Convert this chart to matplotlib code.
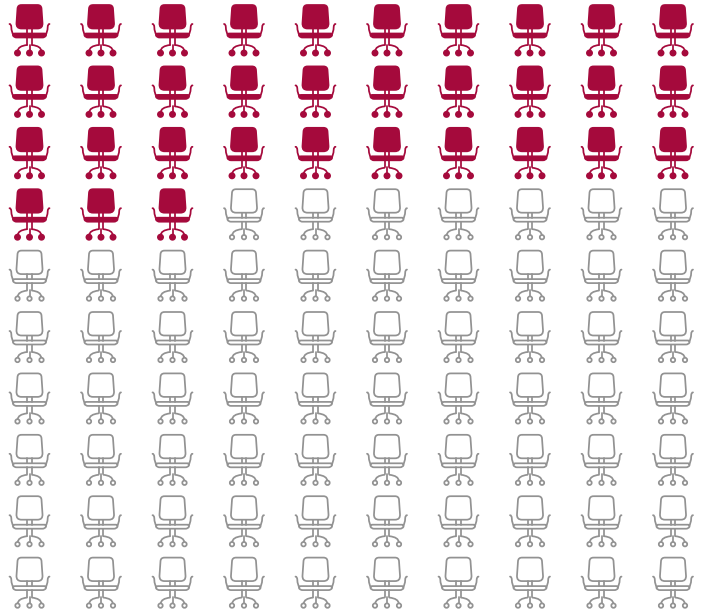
#Pictogram chart: 33 of 100 office chairs are highlighted
import matplotlib
matplotlib.use('Agg')
import matplotlib.pyplot as plt
from matplotlib.path import Path
from matplotlib.patches import PathPatch, Circle
from matplotlib.transforms import Affine2D

n_rows = 10
n_cols = 10
n_highlighted = 33
highlight_color = '#a50a3c'
rest_color = '#929292'

M, L, C = Path.MOVETO, Path.LINETO, Path.CURVE3

#Chair parts in pixels, origin at top centre of the chair
back = Path([(-8, 0), (8, 0), (11.7, 0), (12, 3.5), (13, 18), (13.4, 23.5), (8, 23.5), (-8, 23.5),
             (-13.4, 23.5), (-13, 18), (-12, 3.5), (-11.7, 0), (-8, 0)],
            [M, L, C, C, L, C, C, L, C, C, L, C, C])
seat = Path([(-15, 28.5), (15, 28.5), (17, 28.5), (16.5, 30.5), (15.5, 32.5), (13, 32.5), (-13, 32.5),
             (-15.5, 32.5), (-16.5, 30.5), (-17, 28.5), (-15, 28.5)],
            [M, L, C, C, C, C, L, C, C, C, C])
arm_l = Path([(-20, 19), (-18.3, 19), (-18.2, 22), (-18, 28), (-16, 29.5)], [M, C, C, C, C])
arm_r = Path([(20, 19), (18.3, 19), (18.2, 22), (18, 28), (16, 29.5)], [M, C, C, C, C])
neck = [Path([(-2.2, 23.5), (-2.2, 28.5)]), Path([(2.2, 23.5), (2.2, 28.5)])]
post = [Path([(-2.3, 32.5), (-2.3, 39.5)]), Path([(2.3, 32.5), (2.3, 39.5)])]
base = [Path([(0, 39.5), (0, 46)]),
        Path([(-11.8, 46), (-11.5, 41), (-2.5, 40)], [M, C, C]),
        Path([(11.8, 46), (11.5, 41), (2.5, 40)], [M, C, C])]
wheels = [(-12, 48), (0, 48), (12, 48)]


def draw_chair(ax, cx, top, color, filled):
    tr = Affine2D().translate(cx, top) + ax.transData
    lw = 1.25
    face = color if filled else 'white'
    ax.add_patch(PathPatch(back, facecolor=face, edgecolor=color, lw=lw, transform=tr))
    ax.add_patch(PathPatch(seat, facecolor=face, edgecolor=color, lw=lw, transform=tr))
    for p in [arm_l, arm_r] + neck + post + base:
        ax.add_patch(PathPatch(p, facecolor='none', edgecolor=color, lw=lw, transform=tr, capstyle='round'))
    for w in wheels:
        r = 2.6 if filled else 2.2
        ax.add_patch(Circle(w, r, facecolor=face, edgecolor=color, lw=lw, transform=tr))


fig = plt.figure(figsize=(7.04, 6.10), dpi=100)
ax = fig.add_axes([0, 0, 1, 1])
ax.set_xlim(0, 704)
ax.set_ylim(610, 0)
ax.axis('off')

x0, dx = 29.5, 71.5
y0, dy = 5, 61.4
for i in range(n_rows * n_cols):
    row, col = divmod(i, n_cols)
    on = i < n_highlighted
    draw_chair(ax, x0 + col * dx, y0 + row * dy, highlight_color if on else rest_color, on)

fig.savefig('out.png', dpi=100)
